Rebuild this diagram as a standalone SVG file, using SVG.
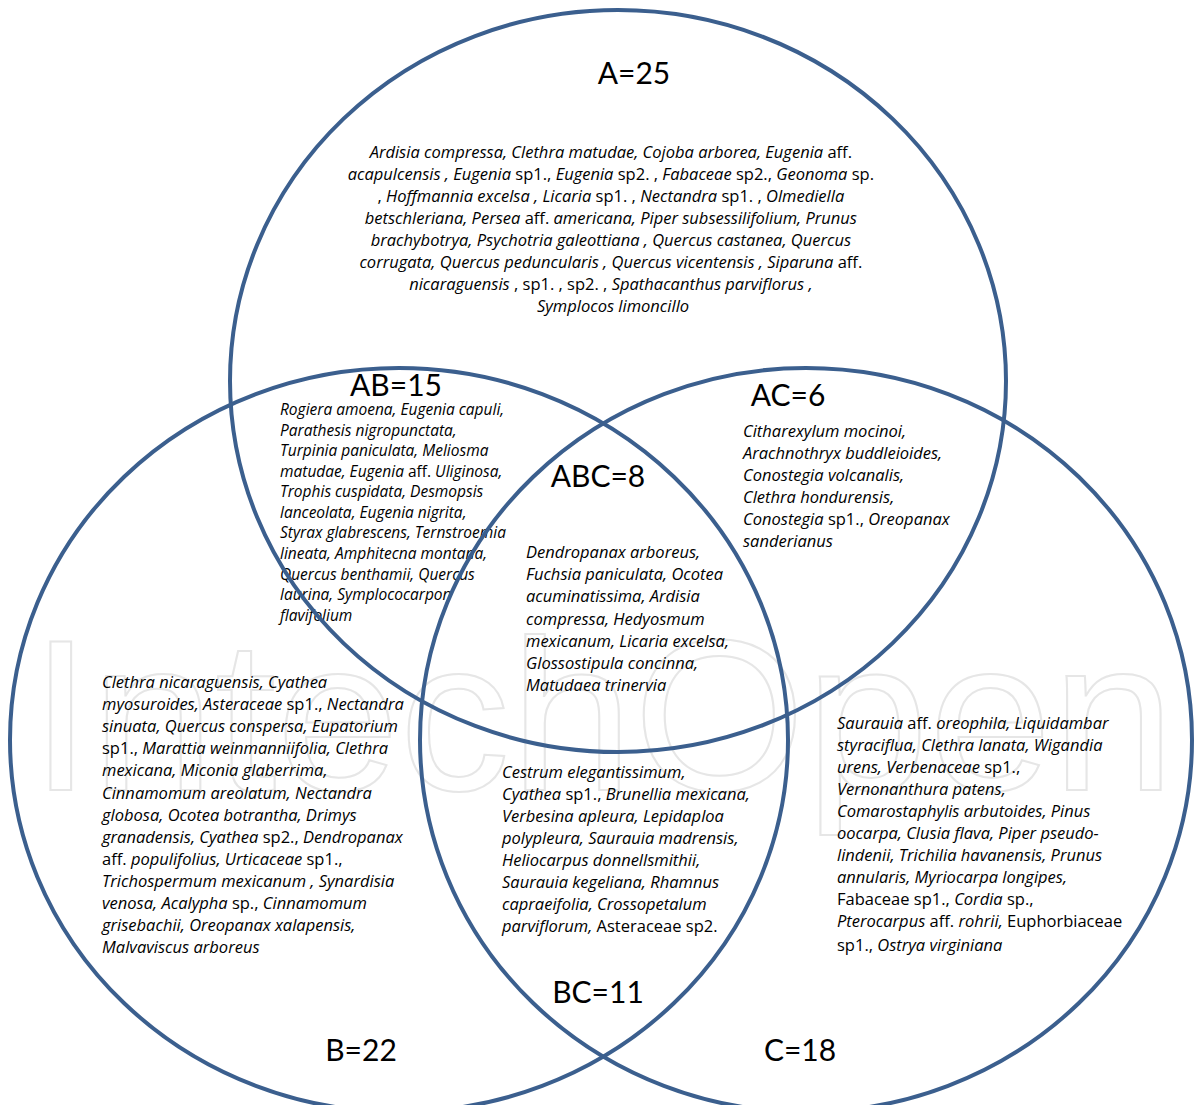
<svg xmlns="http://www.w3.org/2000/svg" width="1194" height="1105" viewBox="0 0 1194 1105">
<style>
.t{font-family:"Open Sans","Liberation Sans",sans-serif;font-size:16.5px;font-style:italic;fill:#000}
.s{font-size:15.5px}
.n{font-style:normal}
.lbl{font-family:Lato,"Open Sans","Liberation Sans",sans-serif;font-size:30px;fill:#000;text-anchor:middle}
.set{fill:none;stroke:#3b5f8e;stroke-width:4}
.wm{font-family:"Liberation Sans",sans-serif;font-size:215px;fill:none;stroke:#e6e6e6;stroke-width:2}
</style>
<rect width="1194" height="1105" fill="#fff"/>
<text class="wm" x="30" y="790" textLength="1145" lengthAdjust="spacingAndGlyphs">IntechOpen</text>
<g id="region-A">
<text class="lbl" x="634" y="84">A=25</text>
<text class="t" text-anchor="middle">
<tspan x="613" y="158">Ardisia compressa, Clethra matudae, Cojoba arborea, Eugenia <tspan class="n">aff.</tspan></tspan>
<tspan x="613" y="180">acapulcensis , Eugenia <tspan class="n">sp1.,</tspan> Eugenia <tspan class="n">sp2. ,</tspan> Fabaceae <tspan class="n">sp2.,</tspan> Geonoma <tspan class="n">sp.</tspan></tspan>
<tspan x="613" y="202"><tspan class="n">,</tspan> Hoffmannia excelsa , Licaria <tspan class="n">sp1. ,</tspan> Nectandra <tspan class="n">sp1. ,</tspan> Olmediella</tspan>
<tspan x="613" y="224">betschleriana, Persea <tspan class="n">aff.</tspan> americana, Piper subsessilifolium, Prunus</tspan>
<tspan x="613" y="246">brachybotrya, Psychotria galeottiana , Quercus castanea, Quercus</tspan>
<tspan x="613" y="268">corrugata, Quercus peduncularis , Quercus vicentensis , Siparuna <tspan class="n">aff.</tspan></tspan>
<tspan x="613" y="290">nicaraguensis <tspan class="n">, sp1. ,  sp2. ,</tspan> Spathacanthus parviflorus ,</tspan>
<tspan x="613" y="312">Symplocos limoncillo</tspan>
</text>
</g>
<g id="region-AB">
<text class="lbl" x="396" y="396">AB=15</text>
<text class="t s">
<tspan x="280" y="415">Rogiera amoena, Eugenia capuli,</tspan>
<tspan x="280" y="436">Parathesis nigropunctata,</tspan>
<tspan x="280" y="456">Turpinia paniculata, Meliosma</tspan>
<tspan x="280" y="477">matudae, Eugenia <tspan class="n">aff.</tspan> Uliginosa,</tspan>
<tspan x="280" y="497">Trophis cuspidata, Desmopsis</tspan>
<tspan x="280" y="518">lanceolata, Eugenia nigrita,</tspan>
<tspan x="280" y="538">Styrax glabrescens, Ternstroemia</tspan>
<tspan x="280" y="559">lineata, Amphitecna montana,</tspan>
<tspan x="280" y="580">Quercus benthamii, Quercus</tspan>
<tspan x="280" y="600">laurina, Symplococarpon</tspan>
<tspan x="280" y="621">flavifolium</tspan>
</text>
</g>
<g id="region-AC">
<text class="lbl" x="788" y="406">AC=6</text>
<text class="t">
<tspan x="743" y="437">Citharexylum mocinoi,</tspan>
<tspan x="743" y="459">Arachnothryx buddleioides,</tspan>
<tspan x="743" y="481">Conostegia volcanalis,</tspan>
<tspan x="743" y="503">Clethra hondurensis,</tspan>
<tspan x="743" y="525">Conostegia <tspan class="n">sp1.,</tspan> Oreopanax</tspan>
<tspan x="743" y="547">sanderianus</tspan>
</text>
</g>
<g id="region-ABC">
<text class="lbl" x="598" y="487">ABC=8</text>
<text class="t">
<tspan x="526" y="558">Dendropanax arboreus,</tspan>
<tspan x="526" y="580">Fuchsia paniculata, Ocotea</tspan>
<tspan x="526" y="602">acuminatissima, Ardisia</tspan>
<tspan x="526" y="625">compressa, Hedyosmum</tspan>
<tspan x="526" y="647">mexicanum, Licaria excelsa,</tspan>
<tspan x="526" y="669">Glossostipula concinna,</tspan>
<tspan x="526" y="691">Matudaea trinervia</tspan>
</text>
</g>
<g id="region-B">
<text class="lbl" x="361" y="1061">B=22</text>
<text class="t">
<tspan x="102" y="688">Clethra nicaraguensis, Cyathea</tspan>
<tspan x="102" y="710">myosuroides, Asteraceae <tspan class="n">sp1.,</tspan> Nectandra</tspan>
<tspan x="102" y="732">sinuata, Quercus conspersa, Eupatorium</tspan>
<tspan x="102" y="754"><tspan class="n">sp1.,</tspan> Marattia weinmanniifolia, Clethra</tspan>
<tspan x="102" y="776">mexicana, Miconia glaberrima,</tspan>
<tspan x="102" y="799">Cinnamomum areolatum, Nectandra</tspan>
<tspan x="102" y="821">globosa, Ocotea botrantha, Drimys</tspan>
<tspan x="102" y="843">granadensis, Cyathea <tspan class="n">sp2.,</tspan> Dendropanax</tspan>
<tspan x="102" y="865"><tspan class="n">aff.</tspan> populifolius, Urticaceae <tspan class="n">sp1.,</tspan></tspan>
<tspan x="102" y="887">Trichospermum mexicanum , Synardisia</tspan>
<tspan x="102" y="909">venosa, Acalypha <tspan class="n">sp.,</tspan> Cinnamomum</tspan>
<tspan x="102" y="931">grisebachii, Oreopanax xalapensis,</tspan>
<tspan x="102" y="953">Malvaviscus arboreus</tspan>
</text>
</g>
<g id="region-BC">
<text class="lbl" x="598" y="1003">BC=11</text>
<text class="t">
<tspan x="502" y="778">Cestrum elegantissimum,</tspan>
<tspan x="502" y="800">Cyathea <tspan class="n">sp1.,</tspan> Brunellia mexicana,</tspan>
<tspan x="502" y="822">Verbesina apleura, Lepidaploa</tspan>
<tspan x="502" y="844">polypleura, Saurauia madrensis,</tspan>
<tspan x="502" y="866">Heliocarpus donnellsmithii,</tspan>
<tspan x="502" y="888">Saurauia kegeliana, Rhamnus</tspan>
<tspan x="502" y="910">capraeifolia, Crossopetalum</tspan>
<tspan x="502" y="932">parviflorum, <tspan class="n">Asteraceae sp2.</tspan></tspan>
</text>
</g>
<g id="region-C">
<text class="lbl" x="800" y="1061">C=18</text>
<text class="t">
<tspan x="837" y="729">Saurauia <tspan class="n">aff.</tspan> oreophila, Liquidambar</tspan>
<tspan x="837" y="751">styraciflua, Clethra lanata, Wigandia</tspan>
<tspan x="837" y="773">urens, Verbenaceae <tspan class="n">sp1.,</tspan></tspan>
<tspan x="837" y="795">Vernonanthura patens,</tspan>
<tspan x="837" y="817">Comarostaphylis arbutoides, Pinus</tspan>
<tspan x="837" y="839">oocarpa, Clusia flava, Piper pseudo-</tspan>
<tspan x="837" y="861">lindenii, Trichilia havanensis, Prunus</tspan>
<tspan x="837" y="883">annularis, Myriocarpa longipes,</tspan>
<tspan x="837" y="905"><tspan class="n">Fabaceae sp1.,</tspan> Cordia <tspan class="n">sp.,</tspan></tspan>
<tspan x="837" y="927">Pterocarpus <tspan class="n">aff.</tspan> rohrii, <tspan class="n">Euphorbiaceae</tspan></tspan>
<tspan x="837" y="951"><tspan class="n">sp1.,</tspan> Ostrya virginiana</tspan>
</text>
</g>
<g id="sets">
<ellipse id="set-A" class="set" cx="618" cy="381" rx="388" ry="371"/>
<ellipse id="set-B" class="set" cx="399" cy="740" rx="389" ry="372"/>
<ellipse id="set-C" class="set" cx="806" cy="740" rx="386" ry="372"/>
</g>
</svg>
